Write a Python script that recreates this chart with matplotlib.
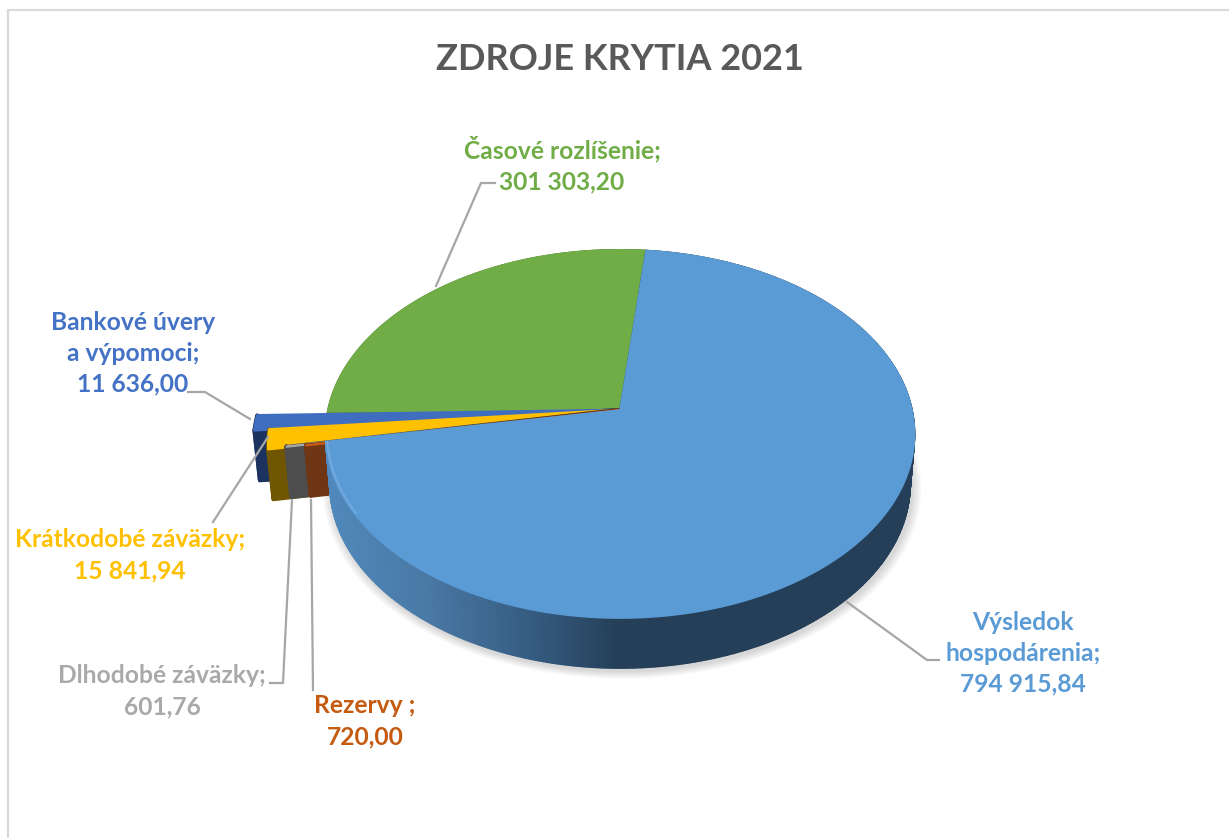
import numpy as np
import matplotlib
matplotlib.use('Agg')
import matplotlib.pyplot as plt
import matplotlib.colors as mcolors

# slices, clockwise from the first angle
slice_names = ['Výsledok hospodárenia', 'Rezervy', 'Dlhodobé záväzky',
               'Krátkodobé záväzky', 'Bankové úvery a výpomoci', 'Časové rozlíšenie']
slice_values = [794915.84, 720.00, 601.76, 15841.94, 11636.00, 301303.20]
top_colors = ['#5b9bd5', '#c55a11', '#a5a5a5', '#ffc000', '#3f6dc0', '#70ad47']
side_colors = ['#243f57', '#6e3614', '#4d4d4d', '#705600', '#1c3360', '#43682b']
reach = [1.0, 1.065, 1.13, 1.19, 1.24, 1.0]
nudge = [0, 2, 2, 3, 3, 0]
draw_order = [5, 4, 3, 2, 1, 0]

# pie geometry in picture pixels
CX, CY = 620, 410
RX, RY = 292, 181
PERSP = 0.13
DEPTH = 50
FIRST_ANGLE = 5.8

plt.rcParams['font.family'] = ['Lato', 'DejaVu Sans']


def project(angle, r, low=False):
    # angle in degrees, clockwise from the far side of the disc
    a = np.radians(angle)
    u = r * np.sin(a)
    v = r * np.cos(a)
    w = 1 + PERSP * v
    x = RX * u / w
    y = -RY * v / w
    if low:
        return CX + x * 0.985, CY + y + DEPTH
    return CX + x, CY + y


def poly(ax, x, y, color, lw=1.2, z=2):
    ax.fill(x, y, facecolor=color, edgecolor=color, linewidth=lw,
            joinstyle='round', zorder=z)


fig = plt.figure(figsize=(12.29, 8.38), dpi=100)
ax = fig.add_axes([0, 0, 1, 1])
ax.set_xlim(0, 1229)
ax.set_ylim(838, 0)
ax.axis('off')

# chart frame
ax.plot([7.5, 7.5, 1229], [838, 10.5, 10.5], color='#d9d9d9', lw=1.6)

# title
ax.text(620, 60, 'ZDROJE KRYTIA 2021', color='#595959', fontsize=26, fontweight='bold',
        ha='center', va='center')

# soft shadow under the disc
shadow_t = np.linspace(0, 360, 240)
for i in range(8):
    sx, sy = project(shadow_t, 1.0 + 0.004 * (8 - i), low=True)
    ax.fill(sx + 2, sy + 3, color='black', alpha=0.018, lw=0, zorder=1)

shares = np.array(slice_values) / sum(slice_values) * 360
starts = FIRST_ANGLE + np.concatenate([[0], np.cumsum(shares)[:-1]])

# blue rim runs from mid blue on the left into dark navy at the front
rim_x = [330, 420, 520, 620]
rim_rgb = np.array([mcolors.to_rgb(c) for c in ['#5088bb', '#4a7aa6', '#375f85', '#243f57']])

for i in draw_order:
    t = np.linspace(starts[i], starts[i] + shares[i], max(int(shares[i] * 2), 6))
    r = reach[i]
    tx, ty = project(t, r)
    bx, by = project(t, r, low=True)
    ty = ty + nudge[i]
    by = by + nudge[i]
    edge = 3 if 0 < i < 5 else 1.2

    # radial wall facing the viewer
    ax0, ay0 = project(t[0], 0)
    ax1, ay1 = project(t[0], 0, low=True)
    poly(ax, [ax0, tx[0], bx[0], ax1], [ay0, ty[0], by[0], ay1], side_colors[i], edge)

    # outer rim
    if i == 0:
        for j in range(len(t) - 1):
            col = [np.interp((tx[j] + tx[j + 1]) / 2, rim_x, rim_rgb[:, k]) for k in range(3)]
            poly(ax, [tx[j], tx[j + 1], bx[j + 1], bx[j]], [ty[j], ty[j + 1], by[j + 1], by[j]], col)
    else:
        poly(ax, np.r_[tx, bx[::-1]], np.r_[ty, by[::-1]], side_colors[i], edge)

    # top face
    top_lw = 2 if i in (3, 4) else 1.2
    poly(ax, np.r_[ax0, tx], np.r_[ay0, ty], top_colors[i], top_lw)

# light bevel along the left of the blue slice
t = np.linspace(starts[0] + 232, starts[0] + shares[0], 40)
bev_x, bev_y = project(t, 0.995)
ax.plot(bev_x, bev_y, color='#7fb2e2', lw=1.3, alpha=0.7, zorder=2, solid_capstyle='round')

# leader lines
leaders = [
    ([495, 481, 436], [183, 183, 286]),
    ([188, 205, 250], [392, 392, 419]),
    ([213, 268], [522, 437]),
    ([270, 283, 292], [683, 683, 500]),
    ([311, 313], [500, 690]),
    ([847, 927, 939], [602, 660, 660]),
]
for lx, ly in leaders:
    ax.plot(lx, ly, color='#a6a6a6', lw=1.6, zorder=3)

# data labels
labels = [
    (562, 165, 'Časové rozlíšenie;\n301 303,20', '#70ad47'),
    (133, 353, 'Bankové úvery\na výpomoci;\n11 636,00', '#4472c4'),
    (130, 555, 'Krátkodobé záväzky;\n15 841,94', '#ffc000'),
    (162, 691, 'Dlhodobé záväzky;\n601,76', '#a9a9a9'),
    (365, 721, 'Rezervy ;\n720,00', '#c55a11'),
    (1023, 653, 'Výsledok\nhospodárenia;\n794 915,84', '#5b9bd5'),
]
for lx, ly, txt, col in labels:
    ax.text(lx, ly, txt, color=col, fontsize=17.7, fontweight='bold', ha='center',
            va='center', linespacing=1.42, zorder=4)

fig.savefig('out.png', dpi=100)
